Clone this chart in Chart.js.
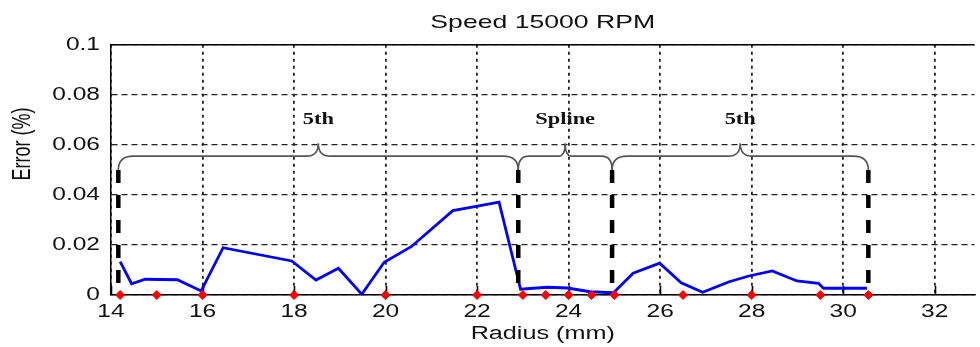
<!DOCTYPE html>
<html>
<head>
<meta charset="utf-8">
<script src="https://cdn.jsdelivr.net/npm/chart.js@4.4.0/dist/chart.umd.min.js"></script>
<style>
html, body { margin: 0; padding: 0; background: #ffffff; }
#c { display: block; }
</style>
</head>
<body>
<canvas id="c" width="980" height="347"></canvas>
<script>
// ---- data ----
const radius = [14.2, 14.45, 14.75, 15.45, 15.97, 16.45, 17.95, 18.48, 18.97, 19.48, 19.97, 20.56, 21.47, 21.95, 22.48, 22.95, 23.53, 23.97, 24.47, 24.98, 25.41, 25.99, 26.46, 26.93, 27.51, 27.94, 28.45, 28.99, 29.46, 29.57, 30.52];
const errorPct = [0.0133, 0.0045, 0.0063, 0.0061, 0.0016, 0.0189, 0.0136, 0.0060, 0.0107, 0.0003, 0.0131, 0.0193, 0.0337, 0.0353, 0.0371, 0.0023, 0.0031, 0.0028, 0.0013, 0.0009, 0.0087, 0.0127, 0.0049, 0.0011, 0.0053, 0.0076, 0.0096, 0.0056, 0.0047, 0.0027, 0.0027];
const knotRadius = [14.2, 15, 16, 18, 20, 22, 23, 23.5, 24, 24.5, 25, 26.5, 28, 29.5, 30.55];
const segmentBounds = [14.16, 22.9, 24.95, 30.55];
const segmentLabels = ['5th', 'Spline', '5th'];
const boundaryHeight = 0.05;
const xTickValues = [14, 16, 18, 20, 22, 24, 26, 28, 30, 32];
const yTickValues = [0, 0.02, 0.04, 0.06, 0.08, 0.1];
const yTickLabels = ['0', '0.02', '0.04', '0.06', '0.08', '0.1'];

const FONT = '"Liberation Sans", Arial, sans-serif';
const TEXT_STRETCH = 1.4;    // reference text is horizontally stretched
const LABEL_STRETCH = 1.4;

// horizontally stretch text glyphs about their anchor point (screen space)
const protoFill = CanvasRenderingContext2D.prototype.fillText;
function stretchedFill(text, x, y, maxWidth) {
  const s = this._stretch || 1;
  if (s === 1) return protoFill.apply(this, arguments);
  const M = this.getTransform();
  const p = M.transformPoint(new DOMPoint(x, y));
  const N = new DOMMatrix().translate(p.x, p.y).scale(s, 1).translate(-p.x, -p.y).multiply(M);
  this.save();
  this.setTransform(N);
  protoFill.apply(this, arguments);
  this.restore();
}

const stretchPlugin = {
  id: 'stretch',
  beforeDraw(chart) {
    const ctx = chart.ctx;
    if (ctx.fillText !== stretchedFill) ctx.fillText = stretchedFill;
    ctx._stretch = TEXT_STRETCH;
  },
  afterDraw(chart) { chart.ctx._stretch = 1; }
};

// top frame line and inward tick marks on the x axis
const framePlugin = {
  id: 'frame',
  beforeDatasetsDraw(chart) {
    const { ctx, chartArea: a, scales } = chart;
    ctx.save();
    ctx.strokeStyle = '#000';
    ctx.lineWidth = 1.5;
    ctx.beginPath();
    ctx.moveTo(a.left, a.top);
    ctx.lineTo(a.right, a.top);
    ctx.stroke();
    ctx.lineWidth = 1.6;
    xTickValues.forEach(v => {
      const px = Math.round(scales.x.getPixelForValue(v)) + 0.5;
      ctx.beginPath();
      ctx.moveTo(px, a.bottom);
      ctx.lineTo(px, a.bottom - 9);
      ctx.stroke();
    });
    ctx.restore();
  }
};

// curly braces above each fitted segment plus their labels
const bracePlugin = {
  id: 'braces',
  afterDatasetsDraw(chart, args, opts) {
    const { ctx, scales } = chart;
    const xs = scales.x, ys = scales.y;
    const yEnd = ys.getPixelForValue(opts.endValue);
    const yMid = ys.getPixelForValue(opts.barValue);
    const yTip = ys.getPixelForValue(opts.tipValue);
    const yLab = ys.getPixelForValue(opts.labelValue);
    const prevStretch = ctx._stretch;
    ctx.save();
    ctx.strokeStyle = '#555';
    ctx.lineWidth = 1.6;
    for (let i = 0; i < segmentBounds.length - 1; i++) {
      const xa = xs.getPixelForValue(segmentBounds[i]);
      const xb = xs.getPixelForValue(segmentBounds[i + 1]);
      const xm = (xa + xb) / 2;
      const r = Math.min(15, (xb - xa) / 9);
      const rt = Math.min(12, (xb - xa) / 14);
      ctx.beginPath();
      ctx.moveTo(xa, yEnd);
      ctx.quadraticCurveTo(xa, yMid, xa + r, yMid);
      ctx.lineTo(xm - rt, yMid);
      ctx.quadraticCurveTo(xm, yMid, xm, yTip);
      ctx.quadraticCurveTo(xm, yMid, xm + rt, yMid);
      ctx.lineTo(xb - r, yMid);
      ctx.quadraticCurveTo(xb, yMid, xb, yEnd);
      ctx.stroke();

      ctx._stretch = LABEL_STRETCH;
      ctx.fillStyle = '#111';
      ctx.font = 'bold 16px "Liberation Serif"';
      ctx.textAlign = 'center';
      ctx.textBaseline = 'middle';
      ctx.fillText(segmentLabels[i], xm, yLab);
    }
    ctx.restore();
    ctx._stretch = prevStretch;
  }
};

const datasets = [
  {
    label: 'Knots',
    data: knotRadius.map(x => ({ x, y: 0 })),
    showLine: false,
    pointStyle: 'rectRot',
    pointRadius: 4.5,
    pointBackgroundColor: '#ff0000',
    pointBorderColor: '#ff0000',
    pointBorderWidth: 1,
    clip: false
  },
  ...segmentBounds.map((b, i) => ({
    label: 'Boundary ' + (i + 1),
    data: [{ x: b, y: boundaryHeight }, { x: b, y: 0 }],
    showLine: true,
    borderColor: '#000',
    borderWidth: 4.5,
    borderDash: [13, 12],
    pointRadius: 0,
    clip: false
  })),
  {
    label: 'Error',
    data: radius.map((x, i) => ({ x, y: errorPct[i] })),
    showLine: true,
    borderColor: '#0000ff',
    borderWidth: 2.8,
    pointRadius: 0,
    tension: 0
  }
];

new Chart(document.getElementById('c'), {
  type: 'scatter',
  data: { datasets },
  plugins: [stretchPlugin, framePlugin, bracePlugin],
  options: {
    responsive: false,
    animation: false,
    devicePixelRatio: 1,
    layout: { padding: 0 },
    plugins: {
      legend: { display: false },
      tooltip: { enabled: false },
      title: {
        display: true,
        text: 'Speed 15000 RPM',
        fullSize: false,
        color: '#111',
        font: { family: FONT, size: 19, weight: 'normal' },
        padding: { top: 11, bottom: 11 }
      },
      braces: { endValue: 0.05, barValue: 0.0555, tipValue: 0.0607, labelValue: 0.0702 }
    },
    scales: {
      x: {
        type: 'linear',
        min: 14,
        max: 32.87,
        afterBuildTicks: s => { s.ticks = xTickValues.map(v => ({ value: v })); },
        afterFit: s => { s.height = 52; },
        ticks: { color: '#111', font: { family: FONT, size: 17.5 }, padding: 7, autoSkip: false, maxRotation: 0 },
        grid: { color: '#222', lineWidth: 1.8, drawTicks: false },
        border: { display: true, color: '#000', width: 1.5, dash: [3, 4] },
        title: {
          display: true,
          text: 'Radius (mm)',
          color: '#111',
          font: { family: FONT, size: 18 },
          padding: { top: 0, bottom: 2 }
        }
      },
      y: {
        type: 'linear',
        min: 0,
        max: 0.1,
        afterBuildTicks: s => { s.ticks = yTickValues.map(v => ({ value: v })); },
        afterFit: s => {
          s.width = 111;
          if (!s._titleShifted) {
            const orig = s.drawTitle;
            s.drawTitle = function () {
              this.ctx.save();
              this.ctx.translate(0, -26);
              orig.call(this);
              this.ctx.restore();
            };
            s._titleShifted = true;
          }
        },
        ticks: {
          color: '#111',
          font: { family: FONT, size: 17.5 },
          padding: 11,
          callback: (v, i) => yTickLabels[i]
        },
        grid: { color: '#222', lineWidth: 1.3, drawTicks: false },
        border: { display: true, color: '#000', width: 1.5, dash: [6, 4] },
        title: {
          display: true,
          text: 'Error (%)',
          color: '#111',
          font: { family: FONT, size: 18 },
          padding: { top: 12, bottom: 0 }
        }
      }
    }
  }
});
</script>
</body>
</html>
